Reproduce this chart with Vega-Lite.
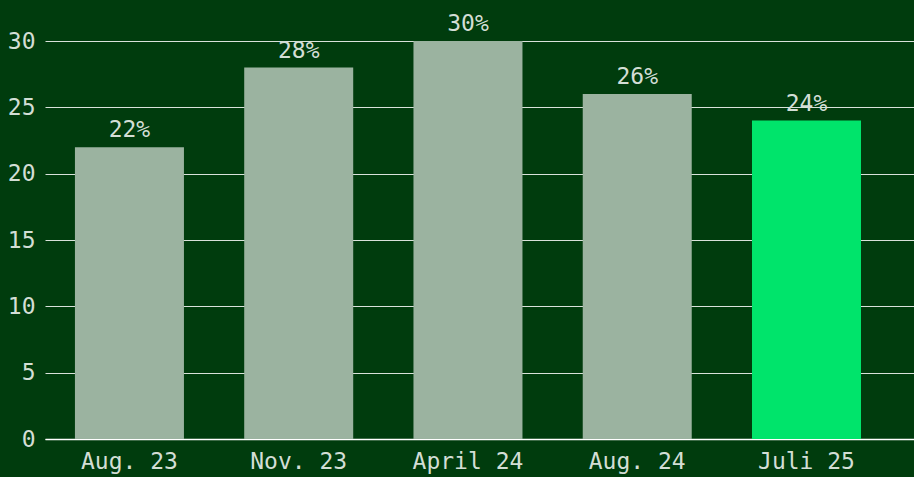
{
  "$schema": "https://vega.github.io/schema/vega-lite/v6.json",
  "width": 869,
  "height": 398,
  "autosize": {"type": "none"},
  "padding": {"left": 45, "top": 41, "right": 0, "bottom": 38},
  "background": "#003c0d",
  "config": {
    "view": {"stroke": null},
    "font": "DejaVu Sans Mono",
    "axis": {"labelFont": "DejaVu Sans Mono", "labelFontSize": 23, "labelColor": "#d3ded5", "labelFontWeight": 300}
  },
  "data": {
    "values": [
      {"period": "Aug. 23", "value": 22, "label": "22%", "current": "no"},
      {"period": "Nov. 23", "value": 28, "label": "28%", "current": "no"},
      {"period": "April 24", "value": 30, "label": "30%", "current": "no"},
      {"period": "Aug. 24", "value": 26, "label": "26%", "current": "no"},
      {"period": "Juli 25", "value": 24, "label": "24%", "current": "yes"}
    ]
  },
  "encoding": {
    "x": {
      "field": "period", "type": "nominal", "sort": null,
      "scale": {"paddingInner": 0.356, "paddingOuter": 0.245, "align": 0.361},
      "axis": {"title": null, "labelAngle": 0, "ticks": false, "domain": true, "domainColor": "#ffffff", "domainWidth": 1.5, "labelPadding": 11, "grid": false}
    },
    "y": {
      "field": "value", "type": "quantitative",
      "scale": {"domain": [0, 30], "nice": false},
      "axis": {"title": null, "values": [0, 5, 10, 15, 20, 25, 30], "ticks": false, "domain": false, "grid": true, "gridColor": "#ffffff", "gridWidth": 1, "labelPadding": 10, "gridOpacity": 0.85}
    }
  },
  "layer": [
    {
      "mark": {"type": "bar"},
      "encoding": {
        "color": {
          "field": "current", "type": "nominal",
          "scale": {"domain": ["no", "yes"], "range": ["#9bb3a0", "#00e46b"]},
          "legend": null
        }
      }
    },
    {
      "mark": {"type": "text", "baseline": "alphabetic", "dy": -10, "fontSize": 23, "color": "#d3ded5", "font": "DejaVu Sans Mono"},
      "encoding": {"text": {"field": "label"}}
    }
  ]
}
